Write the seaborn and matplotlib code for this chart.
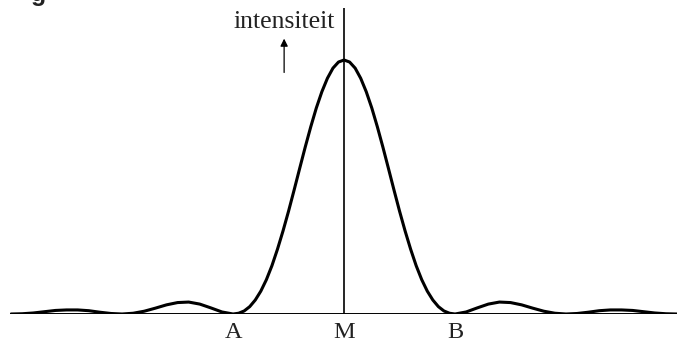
import matplotlib
matplotlib.use("Agg")
import matplotlib.pyplot as plt
import seaborn as sns
import pandas as pd
import numpy as np

# positions along the screen (in units of the first minimum A/B) and intensity
positions_right = [0.0, 0.05, 0.1, 0.15, 0.2, 0.25, 0.3, 0.35, 0.4, 0.45, 0.5,
                   0.55, 0.6, 0.65, 0.7, 0.75, 0.8, 0.85, 0.9, 0.95, 1.0,
                   1.1, 1.2, 1.3, 1.4, 1.5, 1.6, 1.7, 1.8, 1.9, 2.0,
                   2.1, 2.2, 2.3, 2.4, 2.5, 2.6, 2.7, 2.8, 2.9, 3.0]
intensity_right = [1.000, 0.992, 0.968, 0.928, 0.875, 0.811, 0.737, 0.657, 0.573, 0.488, 0.405,
                   0.327, 0.255, 0.190, 0.135, 0.090, 0.055, 0.029, 0.012, 0.003, 0.000,
                   0.008, 0.024, 0.039, 0.047, 0.045, 0.036, 0.023, 0.011, 0.003, 0.000,
                   0.002, 0.007, 0.013, 0.016, 0.016, 0.014, 0.009, 0.004, 0.001, 0.000]

# pattern is symmetric around M
positions = [-p for p in positions_right[:0:-1]] + positions_right
intensity = intensity_right[:0:-1] + intensity_right

point_labels = ["A", "M", "B"]
point_positions = [-1, 0, 1]

df = pd.DataFrame({"x": positions, "I": intensity})

sns.set_style("white")
fig = plt.figure(figsize=(6.8, 3.42), dpi=100)
ax = fig.add_axes([10 / 680, 28 / 342, 667 / 680, 306 / 342])

sns.lineplot(data=df, x="x", y="I", ax=ax, color="black", linewidth=2.2,
             sort=False, solid_joinstyle="round", solid_capstyle="round")

ax.set_xlim(-3.01, 3.0)
ax.set_ylim(0, 306 / 254)
ax.axhline(0, color="black", linewidth=1.4)
ax.axvline(0, color="black", linewidth=1.2)

for lab, pos in zip(point_labels, point_positions):
    ax.text(pos, -0.03, lab, ha="center", va="top", fontsize=17.5,
            family="Liberation Serif", color="#222222")

ax.text(-0.54, 1.15, "intensiteit", ha="center", va="center", fontsize=18.5,
        family="Liberation Serif", color="#222222")
ax.annotate("", xy=(-0.54, 1.095), xytext=(-0.54, 0.94),
            arrowprops=dict(arrowstyle="-|>", color="black", lw=0.9,
                            mutation_scale=11))

# remains of the cut-off figure caption at the top
fig.text(31 / 680, 1.0 - 1 / 342, "g", ha="left", va="baseline",
         fontsize=18, fontweight="bold", family="Liberation Sans", color="#222222")

ax.set_xlabel("")
ax.set_ylabel("")
ax.set_xticks([])
ax.set_yticks([])
sns.despine(ax=ax, left=True, bottom=True)

fig.savefig("out.png", dpi=100)
